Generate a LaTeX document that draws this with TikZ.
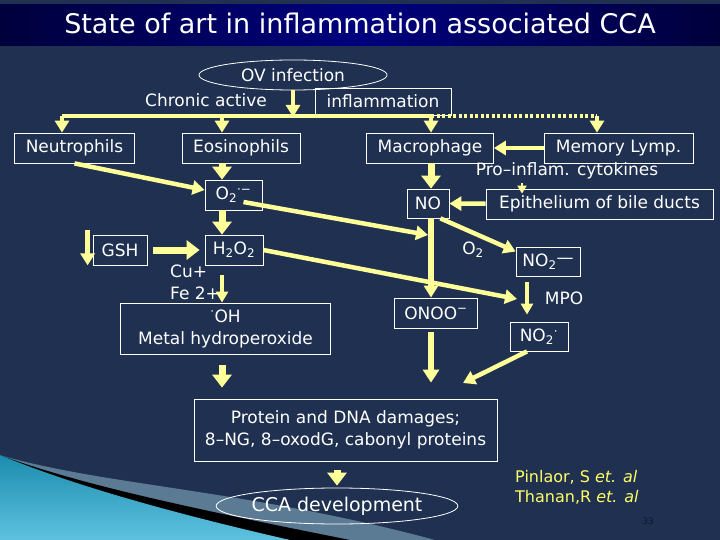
\documentclass[tikz,border=0pt]{standalone}
\usepackage{fontspec}
\setmainfont{DejaVu Sans}
\usetikzlibrary{arrows.meta,shapes.geometric}

\definecolor{slidebg}{HTML}{1F3050}
\definecolor{titlebar}{HTML}{00007E}
\definecolor{titleedge}{HTML}{00003C}
\definecolor{flowyel}{HTML}{FFFF99}
\definecolor{citeyel}{HTML}{FFFF66}
\definecolor{swgray}{HTML}{5B7A93}
\definecolor{swteal}{HTML}{1C8CAE}
\definecolor{swlight}{HTML}{5EC2E0}
\definecolor{pagegray}{HTML}{0E1830}
\newcommand\bodyfont{\fontsize{17}{22}\selectfont}

\begin{document}
\begin{tikzpicture}[x=1pt,y=-1pt,
  box/.style={draw=white,line width=0.8pt,text=white,inner sep=0pt,minimum height=30pt,align=center,font=\bodyfont},
  oval/.style={draw=white,line width=0.8pt,ellipse,text=white,inner sep=0pt,font=\bodyfont},
  txt/.style={text=white,inner sep=0pt,font=\bodyfont},
  wire/.style={color=flowyel,line width=4.5pt},
  flow/.style={color=flowyel,line width=4.5pt,-{Triangle[width=14pt,length=12pt]}},
  fat/.style={color=flowyel,line width=7pt,-{Triangle[width=19pt,length=13pt]}},
  slim/.style={color=flowyel,line width=3.5pt,-{Triangle[width=12pt,length=11pt]}}
]
  \useasboundingbox (0,0) rectangle (720,540);
  % slide background
  \fill[slidebg] (0,0) rectangle (720,540);
  \shade[left color=titleedge,right color=titleedge,middle color=titlebar] (0,5) rectangle (720,46);
  \node[text=white,font=\fontsize{27}{30}\selectfont] (title) at (360,23) {State of art in inflammation associated CCA};
  \fill[swgray] (0,455) .. controls (100,485) and (250,490) .. (435,540) -- (0,540) -- cycle;
  \fill[black] (0,455) .. controls (80,485) and (200,510) .. (350,540) -- (0,540) -- cycle;
  \shade[top color=swteal,bottom color=swlight] (0,455) .. controls (60,480) and (150,508) .. (290,540) -- (0,540) -- cycle;

  % nodes
  \node[oval,minimum width=188pt,minimum height=30pt] (ov) at (293,75) {OV infection};
  \node[txt] (chronic) at (206,100) {Chronic active};
  \node[box,minimum width=136pt,minimum height=27pt] (infl) at (383,101.5) {inflammation};
  \node[box,minimum width=120pt] (neutro) at (74.5,148) {Neutrophils};
  \node[box,minimum width=118pt] (eosino) at (241,148) {Eosinophils};
  \node[box,minimum width=127pt] (macro) at (430,148) {Macrophage};
  \node[box,minimum width=149pt] (memory) at (618.5,148) {Memory Lymp.};
  \node[txt] (procyt) at (567,171) {Pro–inflam. cytokines};
  \node[box,minimum width=42pt,minimum height=29pt] (no) at (428,203.5) {NO};
  \node[box,minimum width=227pt] (epith) at (599.5,204) {Epithelium of bile ducts};
  \node[box,minimum width=57pt] (super) at (233.5,195) {O\textsubscript{2}\textsuperscript{·−}};
  \node[box,minimum width=54pt] (gsh) at (120,250) {GSH};
  \node[box,minimum width=58pt] (hperox) at (234,250) {H\textsubscript{2}O\textsubscript{2}};
  \node[txt,anchor=west] (cu) at (170,271) {Cu+};
  \node[txt,anchor=west] (fe) at (170,293) {Fe 2+};
  \node[box,minimum width=210pt,minimum height=51pt] (oh) at (225.5,328.5) {\textsuperscript{·}OH\\Metal hydroperoxide};
  \node[txt] (otwo) at (473,250) {O\textsubscript{2}};
  \node[box,minimum width=64pt,minimum height=29pt] (nitrite) at (548,261.5) {NO\textsubscript{2}\raisebox{3pt}{—}};
  \node[txt] (mpo) at (564,298) {MPO};
  \node[box,minimum width=83pt] (onoo) at (436,313) {ONOO\textsuperscript{−}};
  \node[box,minimum width=58pt,minimum height=29pt] (nitro) at (539,336.5) {NO\textsubscript{2}\textsuperscript{·}};
  \node[box,minimum width=303pt,minimum height=62pt] (damage) at (345.5,430) {Protein and DNA damages;\\8–NG, 8–oxodG, cabonyl proteins};
  \node[oval,minimum width=228pt,minimum height=36pt,font=\fontsize{19}{22}\selectfont] (cca) at (337,506) {CCA development};
  \node[txt,anchor=west,align=left,text=citeyel,font=\fontsize{16}{20}\selectfont] (cite) at (515,487) {Pinlaor, S \textit{et. al}\\Thanan,R \textit{et. al}};
  \node[inner sep=0pt,text=pagegray,font=\fontsize{9}{9}\selectfont] (page) at (648,521) {33};

  % bus and branch points
  \coordinate (colN) at (62,116);
  \coordinate (colA) at (222,116);
  \coordinate (busov) at (293,117);
  \coordinate (colB) at (431,116);
  \coordinate (colC) at (597,116);
  \coordinate (colD) at (522,183);
  \coordinate (colE) at (527,280);
  \coordinate (jnA) at (428,235);
  \coordinate (jnB) at (517,299);
  \coordinate (jnC) at (463,383);

  \draw[wire] (colN) -- (colB);
  \draw[wire,line width=4pt,dash pattern=on 3pt off 2.5pt] (colB) -- (colC);
  \draw[flow] (ov) -- (busov);
  \draw[flow] (colN) -- (colN |- neutro.north);
  \draw[flow] (colA) -- (colA |- eosino.north);
  \draw[flow] (colB) -- (colB |- macro.north);
  \draw[flow] (colC) -- (colC |- memory.north);

  \path[flow]
    (memory) edge (macro)
    (epith) edge (no)
    (neutro.south) edge ([yshift=5pt]super.west)
    ([xshift=10pt,yshift=-7pt]super.center) edge (jnA)
    (hperox.east) edge (jnB)
    ([xshift=-9pt]no.south east) edge ([yshift=10pt]nitrite.west)
    ([xshift=-12pt]nitro.south) edge (jnC)
    ([xshift=-5pt,yshift=5pt]gsh.north west) edge ([xshift=-5pt]gsh.south west);

  \draw[fat] (macro.south -| colB) -- (no.north -| colB);
  \draw[fat] (eosino.south -| colA) -- (super.north -| colA);
  \draw[fat] (super.south -| colA) -- (hperox.north -| colA);
  \draw[fat,shorten <=6pt,shorten >=5pt] (gsh) -- (hperox);
  \draw[slim,shorten <=10pt] (hperox.south -| colA) -- (oh.north -| colA);
  \draw[fat,shorten <=11pt,shorten >=11pt] (oh.south -| colA) -- (damage.north -| colA);
  \draw[flow,line width=5.5pt] (no.south -| colB) -- (onoo.north -| colB);
  \draw[fat,line width=6pt,-{Triangle[width=16pt,length=13pt]},shorten <=4pt,shorten >=16pt] (onoo.south -| colB) -- (damage.north -| colB);
  \draw[slim,shorten <=6pt,shorten >=7pt] (nitrite.south -| colE) -- (nitro.north -| colE);
  \draw[slim,line width=2.5pt,-{Triangle[width=9pt,length=8pt]},shorten >=-5pt] (colD) -- (colD |- epith.north);
  \draw[fat,shorten <=9pt,shorten >=2pt] (damage.south -| cca.north) -- (cca.north);
\end{tikzpicture}
\end{document}
